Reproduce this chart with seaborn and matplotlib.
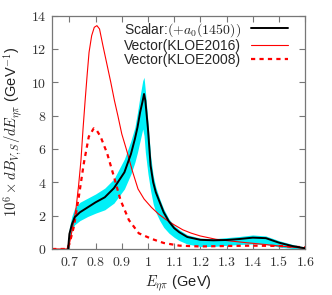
import numpy as np
import pandas as pd
import matplotlib
matplotlib.use("Agg")
import matplotlib.pyplot as plt
from matplotlib.ticker import FuncFormatter, MultipleLocator
import seaborn as sns

# scalar curve (+a0(1450)) with its error band
scalar_x = [0.695, 0.70, 0.71, 0.72, 0.74, 0.77, 0.80, 0.835, 0.87, 0.91, 0.935, 0.95,
            0.96, 0.97, 0.98, 0.985, 0.99, 1.0, 1.01, 1.02, 1.03, 1.045, 1.06, 1.08,
            1.10, 1.12, 1.15, 1.2, 1.25, 1.3, 1.35, 1.4, 1.45, 1.5, 1.55, 1.6]
scalar_y = [0, 0.9, 1.5, 1.9, 2.2, 2.5, 2.8, 3.1, 3.65, 4.6, 5.7, 6.6,
            7.3, 8.2, 8.9, 9.3, 8.9, 7.2, 5.0, 4.0, 3.4, 2.8, 2.2, 1.65,
            1.25, 1.0, 0.72, 0.55, 0.52, 0.54, 0.6, 0.68, 0.65, 0.38, 0.18, 0.04]
scalar_hi = [0, 1.3, 2.0, 2.45, 2.8, 3.05, 3.3, 3.65, 4.2, 5.4, 6.5, 7.3,
             8.2, 9.2, 10.1, 10.3, 9.5, 7.6, 5.6, 4.4, 3.7, 3.0, 2.4, 1.8,
             1.4, 1.15, 0.85, 0.65, 0.62, 0.68, 0.75, 0.84, 0.78, 0.5, 0.28, 0.1]
scalar_lo = [0, 0.6, 1.1, 1.45, 1.7, 1.95, 2.15, 2.35, 2.75, 3.6, 4.5, 5.2,
             5.8, 6.5, 7.2, 6.8, 5.8, 4.5, 3.5, 2.7, 2.2, 1.7, 1.3, 0.95,
             0.7, 0.5, 0.3, 0.15, 0.15, 0.22, 0.27, 0.3, 0.27, 0.12, 0.03, 0]

# vector, KLOE2016
kloe16_x = [0.634, 0.69, 0.70, 0.71, 0.725, 0.735, 0.744, 0.752, 0.76, 0.768, 0.775,
            0.785, 0.795, 0.805, 0.815, 0.828, 0.843, 0.858, 0.872, 0.885, 0.90,
            0.919, 0.94, 0.962, 0.985, 1.013, 1.04, 1.07, 1.10, 1.133, 1.165, 1.2,
            1.26, 1.32, 1.374, 1.44, 1.5, 1.55, 1.6]
kloe16_y = [0, 0, 0.3, 1.1, 2.4, 3.8, 5.3, 7.2, 8.9, 10.5, 11.8,
            12.8, 13.3, 13.4, 13.2, 12.2, 11.1, 10.0, 8.9, 8.0, 6.9,
            5.9, 4.7, 3.6, 3.0, 2.5, 2.1, 1.75, 1.45, 1.15, 0.95, 0.78,
            0.58, 0.47, 0.38, 0.28, 0.18, 0.11, 0.04]

# vector, KLOE2008
kloe08_x = [0.634, 0.69, 0.70, 0.717, 0.736, 0.755, 0.774, 0.793, 0.805, 0.819, 0.844,
            0.87, 0.895, 0.927, 0.965, 1.015, 1.06, 1.12, 1.2, 1.3, 1.4, 1.5, 1.6]
kloe08_y = [0, 0, 0.3, 1.34, 3.14, 5.14, 6.74, 7.24, 7.1, 6.74, 5.74,
            4.34, 2.94, 1.74, 0.94, 0.6, 0.36, 0.2, 0.15, 0.18, 0.2, 0.18, 0.1]

labels = ["Scalar:$(+a_0(1450))$", "Vector(KLOE2016)", "Vector(KLOE2008)"]

sns.set_style("ticks")
plt.rcParams["font.family"] = ["Liberation Sans", "DejaVu Sans"]
plt.rcParams["mathtext.fontset"] = "cm"

fig = plt.figure(figsize=(3.32, 2.95), dpi=100)
ax = fig.add_axes([0.157, 0.156, 0.762, 0.791])

df_s = pd.DataFrame({"x": scalar_x, "y": scalar_y})
df_16 = pd.DataFrame({"x": kloe16_x, "y": kloe16_y})
df_08 = pd.DataFrame({"x": kloe08_x, "y": kloe08_y})

ax.fill_between(scalar_x, scalar_lo, scalar_hi, color="#00f0f8", lw=0, zorder=1)
sns.lineplot(data=df_16, x="x", y="y", ax=ax, color="red", lw=0.8, zorder=2)
sns.lineplot(data=df_08, x="x", y="y", ax=ax, color="red", lw=1.6, zorder=2)
ax.lines[-1].set_dashes([1.9, 1.9])
sns.lineplot(data=df_s, x="x", y="y", ax=ax, color="black", lw=1.4, zorder=3)

h_s, h_16, h_08 = ax.lines[2], ax.lines[0], ax.lines[1]
ax.legend([h_s, h_16, h_08], labels, loc="upper right", frameon=False,
          bbox_to_anchor=(0.933, 0.978), borderaxespad=0, borderpad=0,
          markerfirst=False, fontsize=10, handlelength=2.7,
          labelspacing=0.0, handletextpad=0.7)

ax.set_xlim(0.634, 1.6)
ax.set_ylim(0, 14)
ax.xaxis.set_major_locator(MultipleLocator(0.1))
ax.yaxis.set_major_locator(MultipleLocator(2))
fmt = FuncFormatter(lambda v, p: f"${v:g}$")
ax.xaxis.set_major_formatter(fmt)
ax.yaxis.set_major_formatter(fmt)
ax.tick_params(direction="in", length=4, width=0.8, color="#777777",
               top=True, right=True, labelsize=10, labelcolor="#333333", pad=4)
for s in ax.spines.values():
    s.set_color("#777777")
    s.set_linewidth(0.9)

ax.set_xlabel(r"$E_{\eta\pi}$ (GeV)", fontsize=10.5, color="#222222", labelpad=3)
ax.set_ylabel(r"$10^6\times dB_{V,S}/dE_{\eta\pi}$ (GeV$^{-1}$)", fontsize=10.5,
              color="#222222", labelpad=5)

fig.savefig("out.png", dpi=100)
